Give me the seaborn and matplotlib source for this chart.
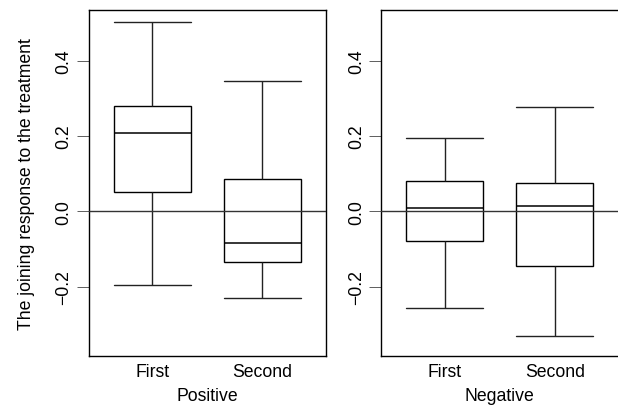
import matplotlib
matplotlib.use("Agg")
import matplotlib.pyplot as plt
import seaborn as sns
import pandas as pd
import numpy as np

sns.set_style("white")
plt.rcParams['font.family'] = ['Liberation Sans', 'DejaVu Sans']
plt.rcParams['text.color'] = 'black'
plt.rcParams['axes.labelcolor'] = 'black'
plt.rcParams['xtick.color'] = 'black'
plt.rcParams['ytick.color'] = 'black'

# Data: five-number summaries (min, Q1, median, Q3, max)
groups = ["First", "Second"]
panels = ["Positive", "Negative"]
pos_first = [-0.197, 0.051, 0.207, 0.279, 0.504]
pos_second = [-0.231, -0.135, -0.084, 0.085, 0.347]
neg_first = [-0.257, -0.079, 0.009, 0.081, 0.196]
neg_second = [-0.331, -0.145, 0.015, 0.076, 0.278]
yticks = [-0.2, 0.0, 0.2, 0.4]
ylabel = "The joining response to the treatment"

rows = []
for panel, series in zip(panels, [[pos_first, pos_second], [neg_first, neg_second]]):
    for g, vals in zip(groups, series):
        for v in vals:
            rows.append({"panel": panel, "group": g, "value": v})
df = pd.DataFrame(rows)

W, H = 618, 406
FS = 12.7
fig = plt.figure(figsize=(W / 100, H / 100), dpi=100)
ax1 = fig.add_axes([88.5 / W, 49.3 / H, 237.5 / W, 345.4 / H])
ax2 = fig.add_axes([381 / W, 49.3 / H, 237.5 / W, 345.4 / H])

for ax, panel in zip([ax1, ax2], panels):
    sub = df[df["panel"] == panel]
    sns.boxplot(data=sub, x="group", y="value", order=groups, ax=ax,
                whis=(0, 100), width=0.7, color="white", linecolor="black",
                linewidth=1.0, saturation=1, capwidths=0.7,
                medianprops={"color": "black", "linewidth": 1.1},
                whiskerprops={"color": "#222222", "linewidth": 1.0},
                capprops={"color": "#222222", "linewidth": 1.0})
    ax.axhline(0, color="#333333", linewidth=1.0, zorder=5)
    ax.set_xlim(-0.58, 1.58)
    ax.set_ylim(-0.3835, 0.534)
    ax.set_yticks(yticks)
    ax.set_yticklabels([f"{t:.1f}".replace("-", "\u2212") for t in yticks],
                       rotation=90, va="center", fontsize=FS)
    ax.tick_params(axis="y", direction="out", length=8.3, width=0.6,
                   color="#444444", pad=3.2, left=True)
    ax.tick_params(axis="x", length=0, pad=5.5, labelsize=FS)
    ax.set_xlabel(panel, fontsize=FS, labelpad=5)
    ax.set_ylabel("")
    for s in ax.spines.values():
        s.set_visible(True)
        s.set_color("black")
        s.set_linewidth(1.0)

ax1.set_ylabel(ylabel, fontsize=FS, labelpad=15)

fig.savefig("out.png", dpi=100, facecolor="white")
